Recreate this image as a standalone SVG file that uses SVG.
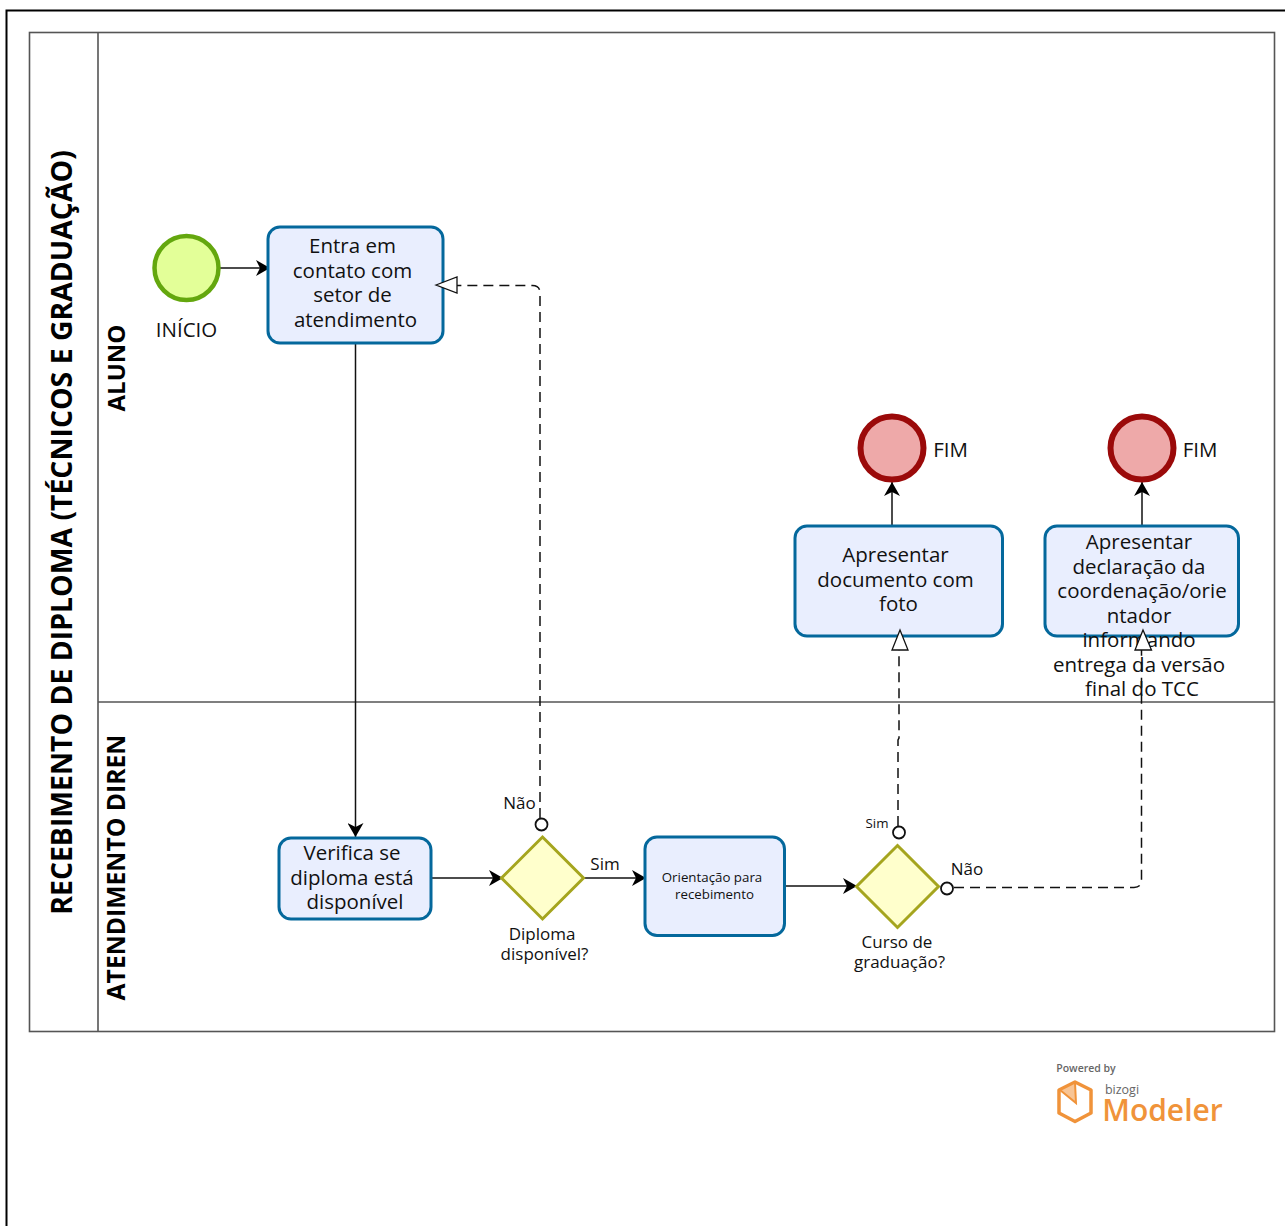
<svg xmlns="http://www.w3.org/2000/svg" width="1285" height="1226" viewBox="0 0 1285 1226">
<style>
text{font-family:"Open Sans","Noto Sans","Liberation Sans",sans-serif;fill:#111;text-anchor:middle}
.t{font-size:20.5px}.l{font-size:17px}.s{font-size:13.300px}
.h{font-size:28.400px;font-weight:700;fill:#000}
.h2{font-size:24.700px;font-weight:700;fill:#000}
.task{fill:#e9eefe;stroke:#04689c;stroke-width:3}
.gw{fill:#ffffcc;stroke:#a5a51e;stroke-width:3}
.end{fill:#eea9a9;stroke:#9b0a0a;stroke-width:6}
.start{fill:#e3ff98;stroke:#64a70e;stroke-width:4.5}
.lane{fill:none;stroke:#555;stroke-width:1.6}
.f{fill:none;stroke:#111;stroke-width:1.5}
.d{fill:none;stroke:#111;stroke-width:1.5;stroke-dasharray:10 6}
.o{fill:#fff;stroke:#111;stroke-width:1.8}
.a{fill:#fff;stroke:#111;stroke-width:1.3}
</style>
<defs>
<marker id="arrow" markerUnits="userSpaceOnUse" markerWidth="16" markerHeight="16" refX="14" refY="8" orient="auto"><path d="M0 0L14 8L0 16L4 8Z" fill="#000"/></marker>
</defs>
<rect id="frame" x="6.500" y="10.500" width="1290" height="1230" fill="none" stroke="#000" stroke-width="2"/>
<g id="pool">
<rect class="lane" x="29.500" y="32.500" width="1245" height="999"/>
<path class="lane" d="M98 33V1031M98 702H1274" stroke-width="1.800"/>
<text class="h" transform="translate(72,532.500) rotate(-90)">RECEBIMENTO DE DIPLOMA (TÉCNICOS E GRADUAÇÃO)</text>
<text class="h2" style="font-size:24px" transform="translate(125,368) rotate(-90)">ALUNO</text>
<text class="h2" transform="translate(125,867.500) rotate(-90)">ATENDIMENTO DIREN</text>
</g>
<g id="connectors">
<path class="f" d="M220 268H270" marker-end="url(#arrow)"/>
<path class="f" d="M355.500 343V837" marker-end="url(#arrow)"/>
<path class="f" d="M431 878H503" marker-end="url(#arrow)"/>
<path class="f" d="M584 878H646" marker-end="url(#arrow)"/>
<path class="f" d="M785 886H857" marker-end="url(#arrow)"/>
<path class="f" d="M892 526V482" marker-end="url(#arrow)"/>
<path class="f" d="M1142 526V482" marker-end="url(#arrow)"/>
<path class="d" d="M540 818V293Q540 285.500 532.500 285.500H457"/>
<path class="d" d="M898 826V740L899 738V650"/>
<path class="d" d="M954 887.500H1134Q1141.500 887.500 1141.500 880V650"/>
</g>
<g id="start"><circle class="start" cx="186.500" cy="268" r="32"/><text class="t" x="186.500" y="337">INÍCIO</text></g>
<g id="task-contato"><rect class="task" x="268" y="227" width="175" height="116" rx="12"/>
<text class="t" x="352.500" y="253">Entra em</text><text class="t" x="352.500" y="278">contato com</text><text class="t" x="352.500" y="302">setor de</text><text class="t" x="355.500" y="327">atendimento</text></g>
<g id="task-verifica"><rect class="task" x="279" y="838" width="152" height="81" rx="12"/>
<text class="t" x="352" y="860">Verifica se</text><text class="t" x="352" y="885">diploma está</text><text class="t" x="355" y="909">disponível</text></g>
<g id="gw-diploma"><path class="gw" d="M542.500 837L583.500 878L542.500 919L501.500 878Z"/>
<text class="l" x="542" y="939.500">Diploma</text><text class="l" x="544.500" y="960">disponível?</text></g>
<g id="task-orientacao"><rect class="task" x="645" y="837" width="139.500" height="98.500" rx="12"/>
<text class="s" x="712" y="882">Orientação para</text><text class="s" x="714.500" y="899">recebimento</text></g>
<g id="gw-curso"><path class="gw" d="M897.500 845.500L938.500 886.500L897.500 927.500L856.500 886.500Z"/>
<text class="l" x="897" y="947.500">Curso de</text><text class="l" x="899.500" y="968">graduação?</text></g>
<g id="task-documento"><rect class="task" x="795" y="526" width="207.500" height="110" rx="12"/>
<text class="t" x="895.500" y="562">Apresentar</text><text class="t" x="895.500" y="587">documento com</text><text class="t" x="898.500" y="611">foto</text></g>
<g id="task-declaracao"><rect class="task" x="1045" y="526" width="193.500" height="110" rx="12"/>
<text class="t" x="1139" y="549">Apresentar</text><text class="t" x="1139" y="574">declaração da</text><text class="t" x="1142" y="598">coordenação/orie</text><text class="t" x="1139" y="623">ntador</text><text class="t" x="1139" y="647">informando</text><text class="t" x="1139" y="672">entrega da versão</text><text class="t" x="1142" y="696">final do TCC</text></g>
<g id="end-1"><circle class="end" cx="892" cy="448" r="31.500"/><text class="t" x="950.500" y="457">FIM</text></g>
<g id="end-2"><circle class="end" cx="1142" cy="448" r="31.500"/><text class="t" x="1200" y="457">FIM</text></g>
<g id="connector-ends">
<path class="a" d="M436 285L457 277V293Z"/>
<path class="a" d="M900 630L908 650H892Z"/>
<path class="a" d="M1143 630L1151.500 650H1135Z"/>
<circle class="o" cx="541.500" cy="824.500" r="6"/>
<circle class="o" cx="899" cy="832.500" r="6"/>
<circle class="o" cx="947" cy="888.500" r="6"/>
</g>
<g id="flow-labels">
<text class="l" x="519.500" y="809">Não</text><text class="l" x="605" y="869.500">Sim</text>
<text class="s" x="877" y="828">Sim</text><text class="l" x="967" y="875">Não</text>
</g>
<g id="logo">
<text x="1086" y="1072" style="font-size:10.500px;font-weight:600;fill:#666">Powered by</text>
<text x="1122" y="1093.500" style="font-size:12.500px;fill:#666">bizogi</text>
<text x="1162.500" y="1121" style="font-size:30px;font-weight:600;fill:#f0933a">Modeler</text>
<path d="M1059 1090L1075 1082L1091 1090V1113L1075 1121.500L1059 1113Z" fill="none" stroke="#f0933a" stroke-width="3.500" stroke-linejoin="round"/>
<path d="M1060 1090L1075 1082.500L1076 1103Z" fill="#f8c595" stroke="#f0933a" stroke-width="2"/>
</g>
</svg>
